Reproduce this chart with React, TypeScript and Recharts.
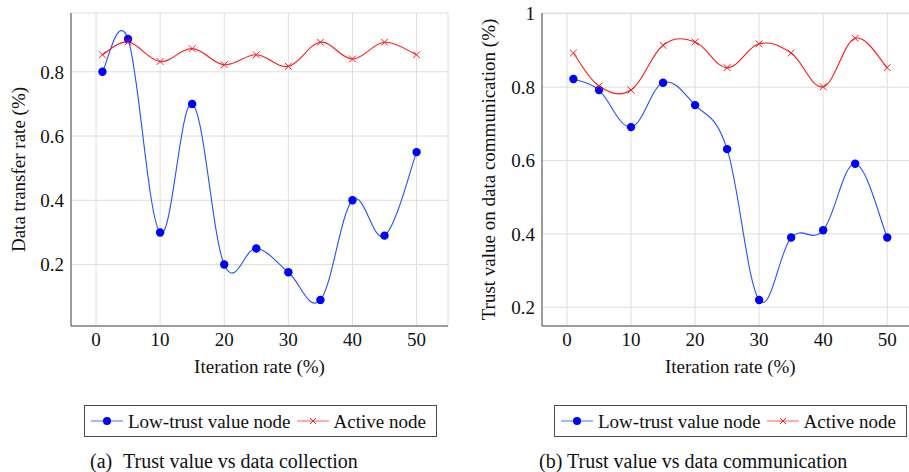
import React from 'react';
import { LineChart, Line, XAxis, YAxis, CartesianGrid, Label } from 'recharts';

const iterations = [1, 5, 10, 15, 20, 25, 30, 35, 40, 45, 50];
const collectionLowTrust = [0.8, 0.902, 0.3, 0.7, 0.2, 0.25, 0.176, 0.09, 0.4, 0.29, 0.55];
const collectionActive = [0.853, 0.893, 0.832, 0.872, 0.822, 0.853, 0.817, 0.892, 0.84, 0.892, 0.853];
const commLowTrust = [0.822, 0.792, 0.691, 0.812, 0.751, 0.631, 0.22, 0.39, 0.41, 0.591, 0.39];
const commActive = [0.893, 0.803, 0.792, 0.914, 0.923, 0.853, 0.918, 0.893, 0.801, 0.933, 0.853];

const xTicks = [0, 10, 20, 30, 40, 50];
const collectionTicks = [0.2, 0.4, 0.6, 0.8];
const commTicks = [0.2, 0.4, 0.6, 0.8, 1];
const seriesNames = ['Low-trust value node', 'Active node'];
const xLabel = 'Iteration rate (%)';

const FONT = "'Liberation Serif', 'Times New Roman', serif";
const BLUE = '#0000ff';
const BLUE_LINE = '#2352ff';
const RED = '#ff1a1a';
const FRAME = '#4a4a4a';
const GRID = '#dedede';

// pgfplots "smooth" is a cardinal spline with tension 0.55
function smoothCurve(k: number) {
  return (context: any) => {
    let pts: number[][] = [];
    return {
      areaStart() {},
      areaEnd() {},
      lineStart() {
        pts = [];
      },
      point(x: number, y: number) {
        pts.push([+x, +y]);
      },
      lineEnd() {
        const n = pts.length;
        if (!n) return;
        context.moveTo(pts[0][0], pts[0][1]);
        for (let i = 0; i < n - 1; i++) {
          const p0 = pts[i - 1] ?? pts[i];
          const p1 = pts[i];
          const p2 = pts[i + 1];
          const p3 = pts[i + 2] ?? p2;
          context.bezierCurveTo(
            p1[0] + k * (p2[0] - p0[0]),
            p1[1] + k * (p2[1] - p0[1]),
            p2[0] - k * (p3[0] - p1[0]),
            p2[1] - k * (p3[1] - p1[1]),
            p2[0],
            p2[1],
          );
        }
      },
    };
  };
}
const pgfSmooth = smoothCurve(0.55 / 3);

const CrossDot = (props: any) => {
  const { cx, cy, index } = props;
  if (cx == null || cy == null) return <g key={index} />;
  const s = 3.4;
  return (
    <path
      key={index}
      d={`M${cx - s},${cy - s}L${cx + s},${cy + s}M${cx - s},${cy + s}L${cx + s},${cy - s}`}
      stroke={RED}
      strokeWidth={1}
      fill="none"
    />
  );
};

const rotatedLabel = (text: string, cx: number) => (props: any) => {
  const vb = props.viewBox;
  const cy = vb.y + vb.height / 2;
  return (
    <text
      x={cx}
      y={cy}
      transform={`rotate(-90 ${cx} ${cy})`}
      textAnchor="middle"
      dominantBaseline="central"
      fontFamily={FONT}
      fontSize={19}
      fill="#111"
    >
      {text}
    </text>
  );
};

const tickStyle = { fontSize: 19, fontFamily: FONT, fill: '#111' };

function Panel({
  low,
  active,
  yDomain,
  yTicks,
  yTitle,
  yTitleX,
  width,
  axisWidth,
  right,
}: {
  low: number[];
  active: number[];
  yDomain: [number, number];
  yTicks: number[];
  yTitle: string;
  yTitleX: number;
  width: number;
  axisWidth: number;
  right: number;
}) {
  const data = iterations.map((x, i) => ({ x, low: low[i], active: active[i] }));
  return (
    <LineChart width={width} height={400} data={data} margin={{ top: 13, right, bottom: 14, left: 0 }}>
      <CartesianGrid stroke={GRID} strokeWidth={1} />
      <XAxis
        dataKey="x"
        type="number"
        domain={[-3.9, 54.9]}
        allowDataOverflow
        ticks={xTicks}
        tick={tickStyle}
        tickLine={false}
        tickSize={5}
        tickMargin={2}
        height={60}
        axisLine={{ stroke: FRAME, strokeWidth: 1 }}
      >
        <Label value={xLabel} position="insideBottom" offset={13} fontSize={19} fontFamily={FONT} fill="#111" />
      </XAxis>
      <XAxis
        xAxisId="top"
        orientation="top"
        type="number"
        domain={[-3.9, 54.9]}
        allowDataOverflow
        tick={false}
        tickLine={false}
        height={0}
        axisLine={{ stroke: FRAME, strokeWidth: 1 }}
      />
      <YAxis
        type="number"
        domain={yDomain}
        allowDataOverflow
        ticks={yTicks}
        tick={tickStyle}
        tickFormatter={(v: number) => (v === 1 ? '1' : v.toFixed(1))}
        tickLine={false}
        tickSize={5}
        tickMargin={2}
        width={axisWidth}
        axisLine={{ stroke: FRAME, strokeWidth: 1 }}
      >
        <Label content={rotatedLabel(yTitle, yTitleX)} />
      </YAxis>
      <YAxis
        yAxisId="right"
        orientation="right"
        type="number"
        domain={[0, 1]}
        allowDataOverflow
        tick={false}
        tickLine={false}
        width={0}
        axisLine={{ stroke: FRAME, strokeWidth: 1 }}
      />
      <Line
        dataKey="low"
        name={seriesNames[0]}
        type={pgfSmooth as any}
        stroke={BLUE_LINE}
        strokeWidth={1.1}
        dot={{ r: 4.2, fill: BLUE, stroke: BLUE, strokeWidth: 0 }}
        isAnimationActive={false}
      />
      <Line
        dataKey="active"
        name={seriesNames[1]}
        type={pgfSmooth as any}
        stroke={RED}
        strokeWidth={1.1}
        dot={CrossDot}
        isAnimationActive={false}
      />
    </LineChart>
  );
}

function LegendBox({ left }: { left: number }) {
  return (
    <div
      style={{
        position: 'absolute',
        left,
        top: 405,
        height: 30,
        border: `1px solid ${FRAME}`,
        display: 'flex',
        alignItems: 'center',
        padding: '0 10px 0 6px',
        fontFamily: FONT,
        fontSize: 19,
        lineHeight: '19px',
        color: '#111',
        whiteSpace: 'nowrap',
        background: '#fff',
      }}
    >
      {seriesNames.map((name, i) => (
        <React.Fragment key={name}>
          <svg width={32} height={12} style={{ marginLeft: i === 0 ? 0 : 6, display: 'block' }}>
            <line x1={0} y1={6} x2={32} y2={6} stroke={i === 0 ? '#8aa4ff' : '#ff9a9a'} strokeWidth={1.6} />
            {i === 0 ? (
              <circle cx={16} cy={6} r={4} fill={BLUE} />
            ) : (
              <path d="M13,3L19,9M13,9L19,3" stroke={RED} strokeWidth={1} />
            )}
          </svg>
          <span style={{ marginLeft: 5 }}>{name}</span>
        </React.Fragment>
      ))}
    </div>
  );
}

const captionStyle: React.CSSProperties = {
  position: 'absolute',
  top: 451,
  fontFamily: FONT,
  fontSize: 20,
  lineHeight: '20px',
  color: '#111',
  whiteSpace: 'nowrap',
};

export default function App() {
  return (
    <div style={{ position: 'absolute', left: 0, top: 0, width: 909, height: 472, overflow: 'hidden', background: '#fff' }}>
      <div style={{ position: 'absolute', left: 0, top: 0 }}>
        <Panel
          low={collectionLowTrust}
          active={collectionActive}
          yDomain={[0.0088, 0.983]}
          yTicks={collectionTicks}
          yTitle="Data transfer rate (%)"
          yTitleX={18.5}
          width={460}
          axisWidth={71}
          right={12}
        />
      </div>
      <div style={{ position: 'absolute', left: 460, top: 0 }}>
        <Panel
          low={commLowTrust}
          active={commActive}
          yDomain={[0.149, 1.002]}
          yTicks={commTicks}
          yTitle="Trust value on data communication (%)"
          yTitleX={28.3}
          width={470}
          axisWidth={82}
          right={11.4}
        />
      </div>
      <LegendBox left={84} />
      <LegendBox left={554} />
      <div style={{ ...captionStyle, left: 90 }}>(a)</div>
      <div style={{ ...captionStyle, left: 123 }}>Trust value vs data collection</div>
      <div style={{ ...captionStyle, left: 539 }}>(b)</div>
      <div style={{ ...captionStyle, left: 567 }}>Trust value vs data communication</div>
    </div>
  );
}
